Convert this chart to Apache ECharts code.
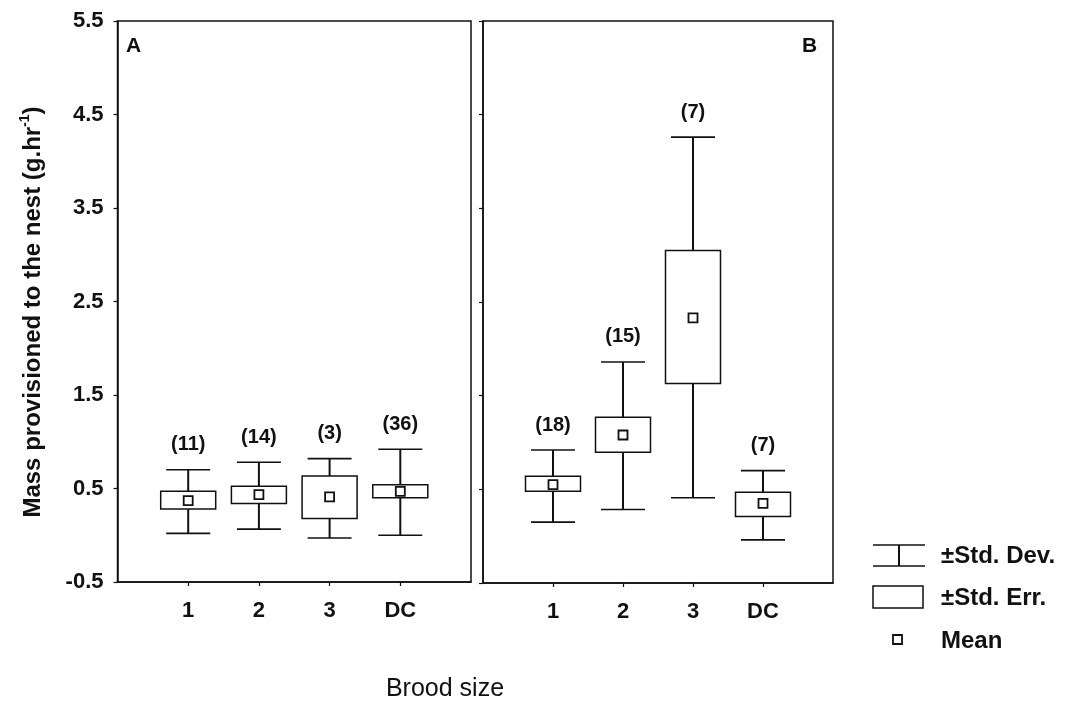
<!DOCTYPE html>
<html>
<head>
<meta charset="utf-8">
<script src="https://cdn.jsdelivr.net/npm/echarts@6/dist/echarts.min.js"></script>
<style>
html,body{margin:0;padding:0;background:#fff;}
#chart{width:1065px;height:701px;}
</style>
</head>
<body>
<div id="chart"></div>
<script>
// ---- data ----
const categories = ['1', '2', '3', 'DC'];
const yTicks = [-0.5, 0.5, 1.5, 2.5, 3.5, 4.5, 5.5];

// Panel A
const meanA   = [0.37, 0.435, 0.41, 0.47];
const seLowA  = [0.28, 0.34, 0.18, 0.40];
const seHighA = [0.47, 0.525, 0.635, 0.54];
const sdLowA  = [0.02, 0.065, -0.03, 0.00];
const sdHighA = [0.70, 0.78, 0.82, 0.92];
const nA      = [11, 14, 3, 36];

// Panel B
const meanB   = [0.55, 1.08, 2.33, 0.35];
const seLowB  = [0.48, 0.895, 1.63, 0.21];
const seHighB = [0.64, 1.27, 3.05, 0.47];
const sdLowB  = [0.15, 0.285, 0.41, -0.04];
const sdHighB = [0.92, 1.86, 4.26, 0.70];
const nB      = [18, 15, 7, 7];

const FONT = "'Liberation Sans', Arial, Helvetica, sans-serif";
const INK = '#111';

function buildRows(mean, seLo, seHi, sdLo, sdHi, n) {
  return categories.map((c, i) => [i + 1, sdLo[i], seLo[i], mean[i], seHi[i], sdHi[i], n[i]]);
}

function renderBox(params, api) {
  const idx = api.value(0);
  const x = api.coord([idx, 0])[0];
  const ySdLo = api.coord([idx, api.value(1)])[1];
  const ySeLo = api.coord([idx, api.value(2)])[1];
  const yMean = api.coord([idx, api.value(3)])[1];
  const ySeHi = api.coord([idx, api.value(4)])[1];
  const ySdHi = api.coord([idx, api.value(5)])[1];
  const n = api.value(6);
  const capW = 44, boxW = 55, m = 9;
  return {
    type: 'group',
    children: [
      { type: 'line', shape: { x1: x, y1: ySdLo, x2: x, y2: ySdHi }, style: { stroke: INK, lineWidth: 2 } },
      { type: 'line', shape: { x1: x - capW / 2, y1: ySdHi, x2: x + capW / 2, y2: ySdHi }, style: { stroke: INK, lineWidth: 1.6 } },
      { type: 'line', shape: { x1: x - capW / 2, y1: ySdLo, x2: x + capW / 2, y2: ySdLo }, style: { stroke: INK, lineWidth: 1.6 } },
      { type: 'rect', shape: { x: x - boxW / 2, y: ySeHi, width: boxW, height: ySeLo - ySeHi }, style: { fill: '#fff', stroke: INK, lineWidth: 1.5 } },
      { type: 'rect', shape: { x: x - m / 2, y: yMean - m / 2, width: m, height: m }, style: { fill: '#fff', stroke: INK, lineWidth: 1.8 } },
      { type: 'text', x: x, y: ySdHi - 25, style: { text: '(' + n + ')', font: 'bold 20px ' + FONT, fill: INK, align: 'center', verticalAlign: 'middle' } }
    ]
  };
}

const axisCats = [''].concat(categories, ['']);

function xAxisFor(gridIndex) {
  return {
    type: 'category', gridIndex, data: axisCats, boundaryGap: false,
    axisLine: { show: true, onZero: false, lineStyle: { color: INK, width: 1.5 } },
    axisTick: { show: true, length: 4, inside: false, interval: (i) => i >= 1 && i <= categories.length, lineStyle: { color: INK, width: 1.2 } },
    axisLabel: { show: true, interval: 0, margin: 18, fontFamily: FONT, fontWeight: 'bold', fontSize: 22, color: INK },
    splitLine: { show: false }
  };
}

function yAxisFor(gridIndex, showLabels) {
  return {
    type: 'value', gridIndex, min: yTicks[0], max: yTicks[yTicks.length - 1], interval: 1,
    axisLine: { show: true, lineStyle: { color: INK, width: 1.5 } },
    axisTick: { show: true, length: 4, inside: false, lineStyle: { color: INK, width: 1.2 } },
    axisLabel: { show: showLabels, margin: 14, fontFamily: FONT, fontWeight: 'bold', fontSize: 22, color: INK, formatter: (v) => v.toFixed(1) },
    splitLine: { show: false }
  };
}

const option = {
  backgroundColor: '#fff',
  animation: false,
  grid: [
    { left: 117.5, top: 21, width: 353.5, height: 561, show: true, borderColor: INK, borderWidth: 1.5, backgroundColor: 'transparent' },
    { left: 483, top: 21, width: 350, height: 562, show: true, borderColor: INK, borderWidth: 1.5, backgroundColor: 'transparent' }
  ],
  xAxis: [xAxisFor(0), xAxisFor(1)],
  yAxis: [yAxisFor(0, true), yAxisFor(1, false)],
  series: [
    { type: 'custom', xAxisIndex: 0, yAxisIndex: 0, renderItem: renderBox, data: buildRows(meanA, seLowA, seHighA, sdLowA, sdHighA, nA), encode: { x: 0, y: [1, 5] }, z: 5 },
    { type: 'custom', xAxisIndex: 1, yAxisIndex: 1, renderItem: renderBox, data: buildRows(meanB, seLowB, seHighB, sdLowB, sdHighB, nB), encode: { x: 0, y: [1, 5] }, z: 5 }
  ],
  graphic: [
    { type: 'text', left: 126, top: 36, style: { text: 'A', font: 'bold 21px ' + FONT, fill: INK } },
    { type: 'text', left: 802, top: 36, style: { text: 'B', font: 'bold 21px ' + FONT, fill: INK } },
    {
      type: 'text', x: 33, y: 312, rotation: Math.PI / 2,
      style: {
        text: '{t|Mass provisioned to the nest (g.hr}{s|-1}{t|)}',
        align: 'center', verticalAlign: 'middle',
        rich: {
          t: { fontFamily: FONT, fontWeight: 'bold', fontSize: 24, fill: INK },
          s: { fontFamily: FONT, fontWeight: 'bold', fontSize: 14, fill: INK, padding: [0, 0, 16, 0] }
        }
      }
    },
    { type: 'text', x: 445, y: 689, style: { text: 'Brood size', font: '25px ' + FONT, fill: INK, align: 'center', verticalAlign: 'middle' } },
    // legend
    { type: 'line', shape: { x1: 873, y1: 545, x2: 925, y2: 545 }, style: { stroke: INK, lineWidth: 1.6 } },
    { type: 'line', shape: { x1: 873, y1: 566, x2: 925, y2: 566 }, style: { stroke: INK, lineWidth: 1.6 } },
    { type: 'line', shape: { x1: 899, y1: 545, x2: 899, y2: 566 }, style: { stroke: INK, lineWidth: 2 } },
    { type: 'text', x: 941, y: 556, style: { text: '±Std. Dev.', font: 'bold 24px ' + FONT, fill: INK, verticalAlign: 'middle' } },
    { type: 'rect', shape: { x: 873, y: 586, width: 50, height: 22 }, style: { fill: '#fff', stroke: INK, lineWidth: 1.5 } },
    { type: 'text', x: 941, y: 598, style: { text: '±Std. Err.', font: 'bold 24px ' + FONT, fill: INK, verticalAlign: 'middle' } },
    { type: 'rect', shape: { x: 893, y: 635, width: 9, height: 9 }, style: { fill: '#fff', stroke: INK, lineWidth: 1.8 } },
    { type: 'text', x: 941, y: 641, style: { text: 'Mean', font: 'bold 24px ' + FONT, fill: INK, verticalAlign: 'middle' } }
  ]
};

const chart = echarts.init(document.getElementById('chart'), null, { renderer: 'canvas' });
chart.setOption(option);
</script>
</body>
</html>
